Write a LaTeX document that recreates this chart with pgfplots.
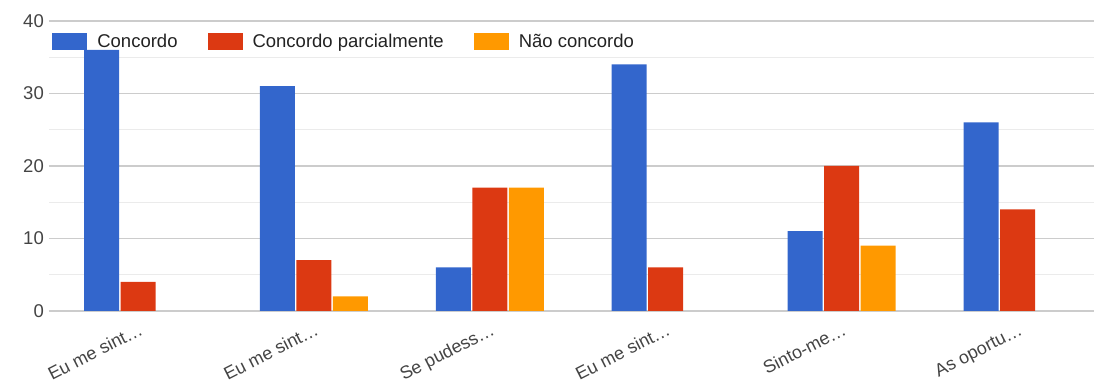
\documentclass[border=0pt]{standalone}
\usepackage{fontspec}
\setmainfont{Liberation Sans}
\usepackage{pgfplots}
\pgfplotsset{compat=1.18}
\definecolor{cblue}{HTML}{3366CC}
\definecolor{cred}{HTML}{DC3912}
\definecolor{corange}{HTML}{FF9900}
\definecolor{gridmaj}{HTML}{CCCCCC}
\definecolor{gridmin}{HTML}{EBEBEB}
\definecolor{baseln}{HTML}{333333}
\definecolor{ticktxt}{HTML}{444444}
\definecolor{legtxt}{HTML}{222222}
\begin{document}
\begin{tikzpicture}[font=\fontsize{18.5}{22}\selectfont]
\useasboundingbox (-49pt,-71pt) rectangle (1047pt,311pt);
\begin{axis}[
  at={(0pt,0pt)}, anchor=south west,
  scale only axis, width=1045pt, height=290pt,
  xmin=-0.506, xmax=5.435, ymin=0, ymax=40,
  ybar=1.5pt, bar width=35pt,
  axis line style={draw=none},
  major tick length=0pt, minor tick length=0pt,
  ytick={0,10,20,30,40},
  minor ytick={5,15,25,35},
  ymajorgrids, yminorgrids,
  major grid style={gridmaj, line width=1.2pt},
  minor grid style={gridmin, line width=1pt},
  extra y ticks={0}, extra y tick labels={},
  extra y tick style={grid style={baseln, line width=1.5pt}},
  xtick={0,1,2,3,4,5},
  xticklabels={Eu me sint…, Eu me sint…, Se pudess…, Eu me sint…, Sinto-me…, As oportu…},
  xticklabel style={rotate=27, anchor=base east, text=ticktxt, inner sep=0pt,
    font=\fontsize{18}{21}\selectfont, xshift=-5pt, yshift=-23pt},
  yticklabel style={text=ticktxt, inner sep=0pt, xshift=-5pt},
  /pgf/number format/assume math mode=true,
  legend columns=3,
  legend image code/.code={\fill[#1] (0pt,-8.5pt) rectangle (35pt,8.5pt);},
  legend style={at={(rel axis cs:0.003,0.928)}, anchor=west, draw=none, fill=none,
    inner sep=0pt, nodes={inner sep=0pt, text=legtxt},
    /tikz/every odd column/.append style={column sep=10pt},
    /tikz/every even column/.append style={column sep=30pt}},
]
\addplot[fill=cblue, draw=none] coordinates {(0,36) (1,31) (2,6) (3,34) (4,11) (5,26)};
\addplot[fill=cred, draw=none] coordinates {(0,4) (1,7) (2,17) (3,6) (4,20) (5,14)};
\addplot[fill=corange, draw=none] coordinates {(1,2) (2,17) (4,9)};
\legend{Concordo, Concordo parcialmente, Não concordo}
\end{axis}
\end{tikzpicture}
\end{document}
